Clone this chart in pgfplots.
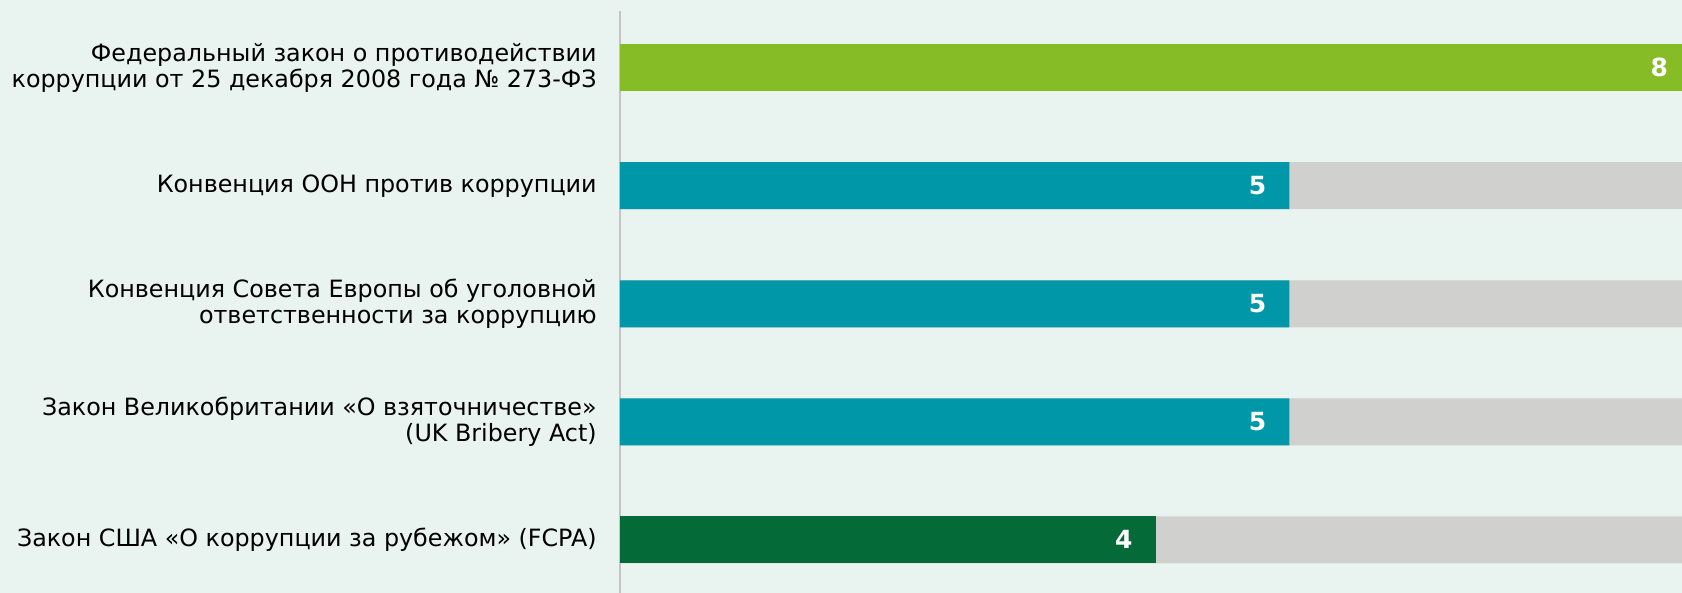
\documentclass[border=0pt]{standalone}
\usepackage{pgfplots}
\pgfplotsset{compat=1.18}
\usepackage{fontspec}
\setmainfont{DejaVu Sans}
\definecolor{bg}{HTML}{E9F3EF}
\definecolor{lgreen}{HTML}{86BC25}
\definecolor{teal}{HTML}{0097A9}
\definecolor{dgreen}{HTML}{046A38}
\definecolor{greybar}{HTML}{D0D0CE}
\definecolor{axisgray}{HTML}{C4C4C4}
\begin{document}
\begin{tikzpicture}
\path[use as bounding box, fill=bg] (0,0) rectangle (841pt,296.5pt);
\begin{axis}[
  at={(310pt,0pt)}, anchor=south west,
  scale only axis, width=535.5pt, height=291pt,
  xmin=0, xmax=8, ymin=-0.48, ymax=4.45, y dir=reverse,
  xbar, bar width=23.5pt, bar shift=0pt,
  axis x line=none, axis y line=left,
  y axis line style={-, draw=axisgray, line width=1pt},
  ytick={0,1,2,3,4},
  yticklabels={{Федеральный закон о противодействии\\коррупции от 25 декабря 2008 года № 273-ФЗ},
    {Конвенция ООН против коррупции},
    {Конвенция Совета Европы об уголовной\\ответственности за коррупцию},
    {Закон Великобритании «О взяточничестве»\\(UK Bribery Act)},
    {Закон США «О коррупции за рубежом» (FCPA)}},
  major tick length=0pt,
  yticklabel style={align=right, inner sep=0pt, xshift=-11.5pt, font=\fontsize{11.9}{13}\selectfont, text=black},
  /pgf/number format/assume math mode=true,
  point meta=x,
  nodes near coords style={anchor=east, xshift=-8pt, text=white, font=\fontsize{12.5}{14}\selectfont\bfseries},
]
\addplot[fill=greybar, draw=none] coordinates {(8,1) (8,2) (8,3) (8,4)};
\addplot[fill=lgreen, draw=none, nodes near coords] coordinates {(8,0)};
\addplot[fill=teal, draw=none, nodes near coords] coordinates {(5,1) (5,2) (5,3)};
\addplot[fill=dgreen, draw=none, nodes near coords] coordinates {(4,4)};
\end{axis}
\end{tikzpicture}
\end{document}
